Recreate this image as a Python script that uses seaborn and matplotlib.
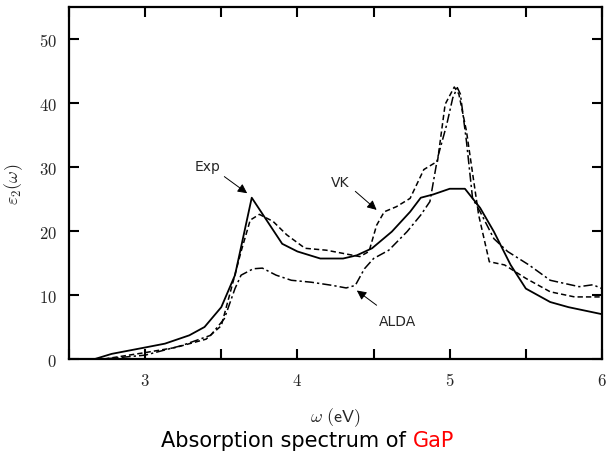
import matplotlib
matplotlib.use("Agg")
import matplotlib.pyplot as plt
import seaborn as sns
import pandas as pd
from matplotlib.ticker import FixedLocator, FixedFormatter

# ---- data ----
exp_x = [2.67, 2.78, 3.0, 3.13, 3.29, 3.39, 3.5, 3.59, 3.70, 3.90, 4.0, 4.15, 4.30, 4.39,
         4.49, 4.62, 4.74, 4.81, 4.89, 5.0, 5.1, 5.2, 5.29, 5.4, 5.5, 5.66, 5.78, 6.0]
exp_y = [0.0, 0.8, 1.8, 2.4, 3.7, 5.0, 8.1, 13.1, 25.2, 18.0, 16.8, 15.7, 15.7, 16.2,
         17.3, 19.9, 23.0, 25.2, 25.7, 26.6, 26.6, 23.6, 19.9, 14.7, 11.0, 8.9, 8.1, 7.0]

vk_x = [2.73, 3.0, 3.2, 3.4, 3.5, 3.56, 3.63, 3.69, 3.75, 3.84, 3.93, 4.05, 4.19, 4.30,
        4.41, 4.47, 4.52, 4.57, 4.65, 4.74, 4.83, 4.92, 4.97, 5.03, 5.06, 5.11, 5.19,
        5.26, 5.36, 5.5, 5.66, 5.82, 6.0]
vk_y = [0.0, 1.0, 1.8, 3.1, 5.2, 10.5, 16.8, 21.7, 22.6, 21.5, 19.4, 17.3, 17.0, 16.5,
        16.0, 16.8, 20.9, 23.0, 23.8, 25.1, 29.6, 30.9, 39.8, 42.5, 41.4, 35.6, 22.5,
        15.2, 14.7, 12.6, 10.5, 9.7, 9.7]

alda_x = [2.73, 3.0, 3.24, 3.43, 3.52, 3.59, 3.63, 3.71, 3.77, 3.86, 3.96, 4.09, 4.23,
          4.32, 4.38, 4.44, 4.50, 4.60, 4.72, 4.81, 4.87, 4.92, 4.98, 5.02, 5.05, 5.07,
          5.11, 5.15, 5.20, 5.29, 5.38, 5.52, 5.66, 5.85, 5.94, 6.0]
alda_y = [0.0, 0.6, 2.1, 3.7, 6.3, 11.0, 13.1, 14.1, 14.2, 13.1, 12.3, 12.0, 11.5,
          11.1, 11.5, 14.1, 15.7, 17.0, 19.9, 22.5, 24.6, 31.4, 36.6, 40.8, 42.4, 41.4,
          34.0, 25.1, 23.0, 18.8, 16.8, 14.7, 12.3, 11.3, 11.6, 11.0]

x_ticks = [3, 4, 5, 6]
x_minor = [2.5, 3.5, 4.5, 5.5]
y_ticks = [0, 10, 20, 30, 40, 50]

sns.set_style("ticks")
plt.rcParams["mathtext.fontset"] = "cm"
plt.rcParams["font.family"] = ["DejaVu Sans"]

fig = plt.figure(figsize=(6.1, 4.52), dpi=100)
ax = fig.add_axes([69 / 610, 1 - 360 / 452, 533 / 610, 352 / 452])

df_exp = pd.DataFrame({"w": exp_x, "e": exp_y})
df_vk = pd.DataFrame({"w": vk_x, "e": vk_y})
df_alda = pd.DataFrame({"w": alda_x, "e": alda_y})

sns.lineplot(data=df_exp, x="w", y="e", ax=ax, color="black", lw=1.3, sort=False)
sns.lineplot(data=df_vk, x="w", y="e", ax=ax, color="black", lw=1.1, sort=False,
             linestyle=(0, (3.5, 2.0)))
sns.lineplot(data=df_alda, x="w", y="e", ax=ax, color="black", lw=1.1, sort=False,
             linestyle=(0, (6, 2, 1.5, 2)))

ax.set_xlim(2.5, 6)
ax.set_ylim(0, 55)

ax.xaxis.set_major_locator(FixedLocator(x_ticks))
ax.xaxis.set_major_formatter(FixedFormatter([f"${t}$" for t in x_ticks]))
ax.xaxis.set_minor_locator(FixedLocator(x_minor))
ax.yaxis.set_major_locator(FixedLocator(y_ticks))
ax.yaxis.set_major_formatter(FixedFormatter([f"${t}$" for t in y_ticks]))

ax.tick_params(which="both", direction="in", length=7, width=1.5,
               top=True, right=True, labelsize=12, color="black")
ax.tick_params(axis="x", pad=9)
ax.tick_params(axis="y", pad=9)
for s in ax.spines.values():
    s.set_linewidth(1.6)
    s.set_color("black")

ax.set_xlabel(r"$\omega\ \mathsf{(eV)}$", fontsize=13, va="center")
ax.xaxis.set_label_coords(0.5, -58 / 352)
ax.set_ylabel(r"$\varepsilon_2\mathsf{(}\omega\mathsf{)}$", fontsize=13, va="center")
ax.yaxis.set_label_coords(-55 / 533, 0.5)

arrow = dict(arrowstyle="-|>", lw=0.7, color="black", mutation_scale=14,
             shrinkA=0, shrinkB=0)
ax.annotate("", xy=(3.67, 25.9), xytext=(3.52, 28.5), arrowprops=arrow)
ax.text(3.41, 30.1, "Exp", ha="center", va="center", fontsize=10)
ax.annotate("", xy=(4.52, 23.3), xytext=(4.38, 26.2), arrowprops=arrow)
ax.text(4.28, 27.6, "VK", ha="center", va="center", fontsize=10)
ax.annotate("", xy=(4.39, 10.7), xytext=(4.52, 8.4), arrowprops=arrow)
ax.text(4.66, 6.0, "ALDA", ha="center", va="center", fontsize=10)

# title below the plot, "GaP" in red
ty = 0.011
t1 = fig.text(0.5, ty, "Absorption spectrum of ", ha="left", va="baseline",
              fontsize=15, color="black")
t2 = fig.text(0.5, ty, "GaP", ha="left", va="baseline", fontsize=15, color="red")
fig.canvas.draw()
w1 = t1.get_window_extent().width / fig.bbox.width
w2 = t2.get_window_extent().width / fig.bbox.width
left = 0.504 - (w1 + w2) / 2
t1.set_position((left, ty))
t2.set_position((left + w1, ty))

fig.savefig("out.png", dpi=100)
